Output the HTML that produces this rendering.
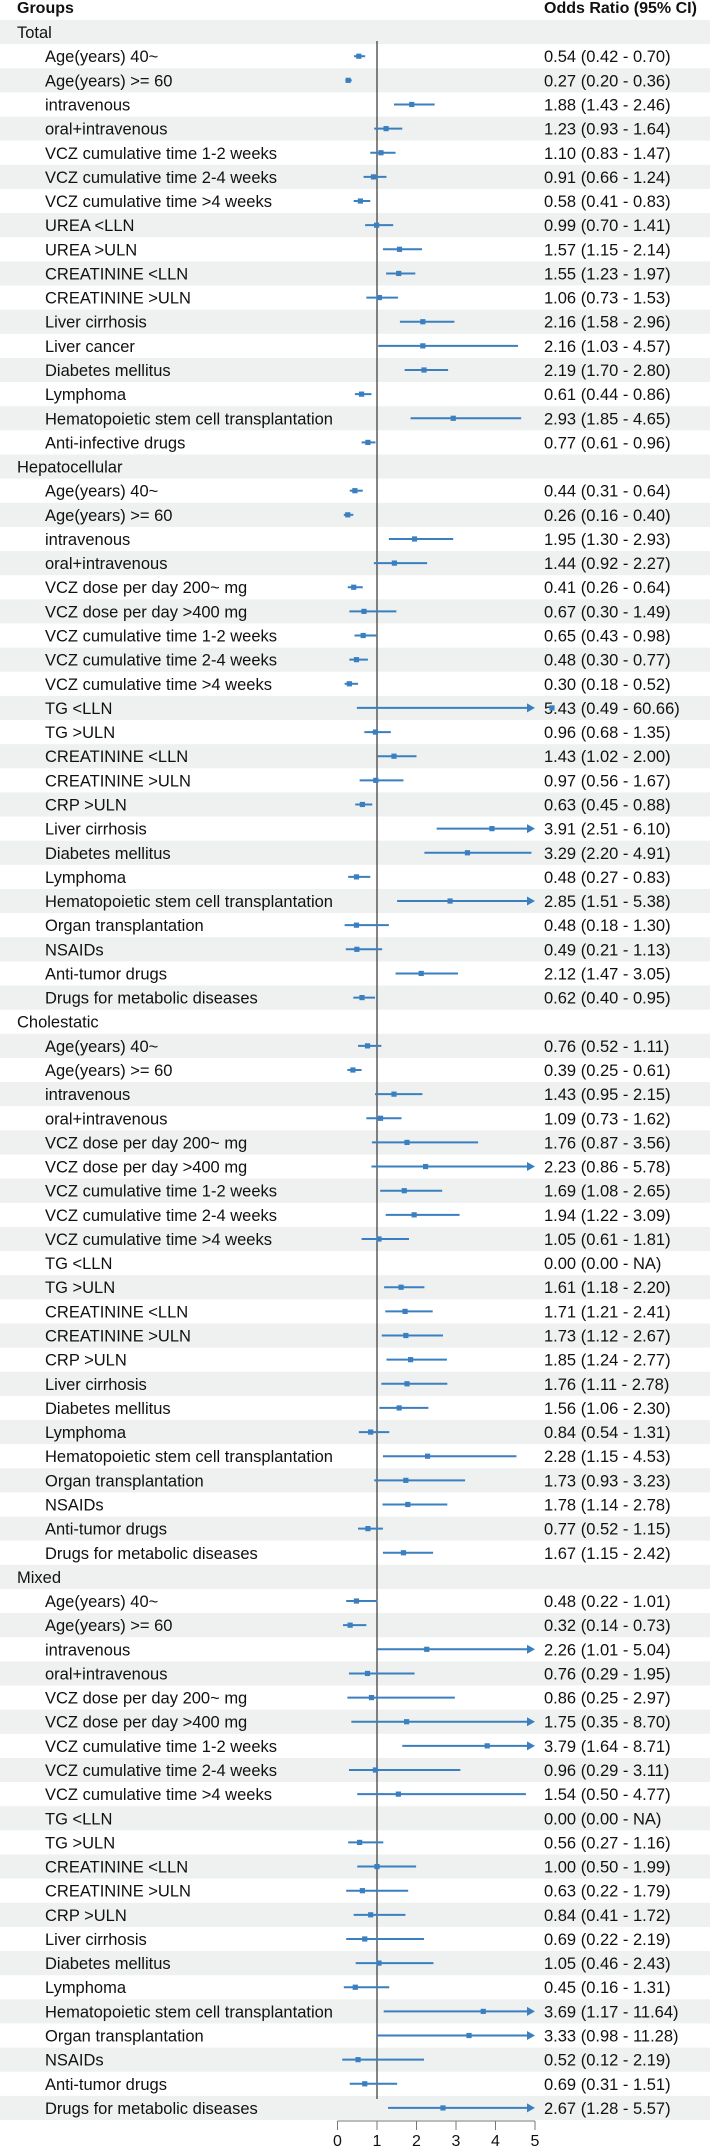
<!DOCTYPE html>
<html><head><meta charset="utf-8">
<style>
html,body{margin:0;padding:0;background:#fff;}
svg{display:block;font-family:"Liberation Sans",Arial,sans-serif;}
</style></head>
<body>
<svg id="chart" width="710" height="2147" viewBox="0 0 710 2147">
<text x="17" y="13" font-size="16" font-weight="bold" fill="#111">Groups</text>
<text x="544" y="13" font-size="16" font-weight="bold" fill="#111">Odds Ratio (95% CI)</text>
</svg>
<script>
const labels = [
"Total","Age(years) 40~","Age(years) >= 60","intravenous","oral+intravenous","VCZ cumulative time 1-2 weeks","VCZ cumulative time 2-4 weeks","VCZ cumulative time >4 weeks","UREA <LLN","UREA >ULN","CREATININE <LLN","CREATININE >ULN","Liver cirrhosis","Liver cancer","Diabetes mellitus","Lymphoma","Hematopoietic stem cell transplantation","Anti-infective drugs",
"Hepatocellular","Age(years) 40~","Age(years) >= 60","intravenous","oral+intravenous","VCZ dose per day 200~ mg","VCZ dose per day >400 mg","VCZ cumulative time 1-2 weeks","VCZ cumulative time 2-4 weeks","VCZ cumulative time >4 weeks","TG <LLN","TG >ULN","CREATININE <LLN","CREATININE >ULN","CRP >ULN","Liver cirrhosis","Diabetes mellitus","Lymphoma","Hematopoietic stem cell transplantation","Organ transplantation","NSAIDs","Anti-tumor drugs","Drugs for metabolic diseases",
"Cholestatic","Age(years) 40~","Age(years) >= 60","intravenous","oral+intravenous","VCZ dose per day 200~ mg","VCZ dose per day >400 mg","VCZ cumulative time 1-2 weeks","VCZ cumulative time 2-4 weeks","VCZ cumulative time >4 weeks","TG <LLN","TG >ULN","CREATININE <LLN","CREATININE >ULN","CRP >ULN","Liver cirrhosis","Diabetes mellitus","Lymphoma","Hematopoietic stem cell transplantation","Organ transplantation","NSAIDs","Anti-tumor drugs","Drugs for metabolic diseases",
"Mixed","Age(years) 40~","Age(years) >= 60","intravenous","oral+intravenous","VCZ dose per day 200~ mg","VCZ dose per day >400 mg","VCZ cumulative time 1-2 weeks","VCZ cumulative time 2-4 weeks","VCZ cumulative time >4 weeks","TG <LLN","TG >ULN","CREATININE <LLN","CREATININE >ULN","CRP >ULN","Liver cirrhosis","Diabetes mellitus","Lymphoma","Hematopoietic stem cell transplantation","Organ transplantation","NSAIDs","Anti-tumor drugs","Drugs for metabolic diseases"
];
const ors = [
null,0.54,0.27,1.88,1.23,1.10,0.91,0.58,0.99,1.57,1.55,1.06,2.16,2.16,2.19,0.61,2.93,0.77,
null,0.44,0.26,1.95,1.44,0.41,0.67,0.65,0.48,0.30,5.43,0.96,1.43,0.97,0.63,3.91,3.29,0.48,2.85,0.48,0.49,2.12,0.62,
null,0.76,0.39,1.43,1.09,1.76,2.23,1.69,1.94,1.05,0.00,1.61,1.71,1.73,1.85,1.76,1.56,0.84,2.28,1.73,1.78,0.77,1.67,
null,0.48,0.32,2.26,0.76,0.86,1.75,3.79,0.96,1.54,0.00,0.56,1.00,0.63,0.84,0.69,1.05,0.45,3.69,3.33,0.52,0.69,2.67
];
const lows = [
null,0.42,0.20,1.43,0.93,0.83,0.66,0.41,0.70,1.15,1.23,0.73,1.58,1.03,1.70,0.44,1.85,0.61,
null,0.31,0.16,1.30,0.92,0.26,0.30,0.43,0.30,0.18,0.49,0.68,1.02,0.56,0.45,2.51,2.20,0.27,1.51,0.18,0.21,1.47,0.40,
null,0.52,0.25,0.95,0.73,0.87,0.86,1.08,1.22,0.61,0.00,1.18,1.21,1.12,1.24,1.11,1.06,0.54,1.15,0.93,1.14,0.52,1.15,
null,0.22,0.14,1.01,0.29,0.25,0.35,1.64,0.29,0.50,0.00,0.27,0.50,0.22,0.41,0.22,0.46,0.16,1.17,0.98,0.12,0.31,1.28
];
const highs = [
null,0.70,0.36,2.46,1.64,1.47,1.24,0.83,1.41,2.14,1.97,1.53,2.96,4.57,2.80,0.86,4.65,0.96,
null,0.64,0.40,2.93,2.27,0.64,1.49,0.98,0.77,0.52,60.66,1.35,2.00,1.67,0.88,6.10,4.91,0.83,5.38,1.30,1.13,3.05,0.95,
null,1.11,0.61,2.15,1.62,3.56,5.78,2.65,3.09,1.81,null,2.20,2.41,2.67,2.77,2.78,2.30,1.31,4.53,3.23,2.78,1.15,2.42,
null,1.01,0.73,5.04,1.95,2.97,8.70,8.71,3.11,4.77,null,1.16,1.99,1.79,1.72,2.19,2.43,1.31,11.64,11.28,2.19,1.51,5.57
];
const ticks = [0,1,2,3,4,5];

const svg = document.getElementById('chart');
const NS = 'http://www.w3.org/2000/svg';
const top0 = 20, rowH = 2100/87;
const x0 = 337.5, x1 = 535;
const xs = v => x0 + (x1 - x0) * v / 5;
const yc = i => top0 + rowH * (i + 0.5);
const col = '#3a7fc0';
function mk(tag, attrs) { const e = document.createElementNS(NS, tag); for (const k in attrs) e.setAttribute(k, attrs[k]); svg.appendChild(e); return e; }
const f2 = v => v === null ? 'NA' : v.toFixed(2);

for (let i = 0; i < labels.length; i += 2) {
  const r = mk('rect', {x: 0, y: top0 + rowH * i, width: 710, height: rowH, fill: '#eef1ef'});
  
  
}
const ref = mk('line', {x1: xs(1), x2: xs(1), y1: 41, y2: 2099, stroke: '#333', 'stroke-width': 1.2});



for (let i = 0; i < labels.length; i++) {
  const y = yc(i);
  const head = ors[i] === null;
  const t = mk('text', {x: head ? 17 : 45, y: y + 6, 'font-size': 16.5, fill: '#111'});
  t.textContent = labels[i];
  
  
  if (head) continue;
  const v = mk('text', {x: 544, y: y + 6, 'font-size': 16.5, fill: '#111'});
  v.textContent = f2(ors[i]) + ' (' + f2(lows[i]) + ' - ' + f2(highs[i]) + ')';
  
  
  if (highs[i] === null) continue;
  const over = highs[i] > 5;
  const hi = over ? 5 : highs[i];
  const ci = mk('line', {x1: xs(lows[i]), x2: over ? xs(5) - 5 : xs(hi), y1: y, y2: y, stroke: col, 'stroke-width': 2});
  
  
  if (over) {
    const ax = xs(5);
    const ar = mk('path', {d: `M${ax-8},${y-4.5} L${ax},${y} L${ax-8},${y+4.5} Z`, fill: col});
    
    
  }
  const pt = mk('rect', {x: xs(ors[i]) - 2.6, y: y - 2.6, width: 5.2, height: 5.2, fill: col});
  
  
}
const axY = 2121;
const ax = mk('line', {x1: xs(0), x2: xs(5), y1: axY, y2: axY, stroke: '#777', 'stroke-width': 1});


for (const tv of ticks) {
  const tk = mk('line', {x1: xs(tv), x2: xs(tv), y1: axY, y2: axY + 9, stroke: '#777', 'stroke-width': 1});
  
  
  const tl = mk('text', {x: xs(tv), y: 2146, 'font-size': 16, 'text-anchor': 'middle', fill: '#111'});
  tl.textContent = tv;
  
  
}
</script>
</body></html>
